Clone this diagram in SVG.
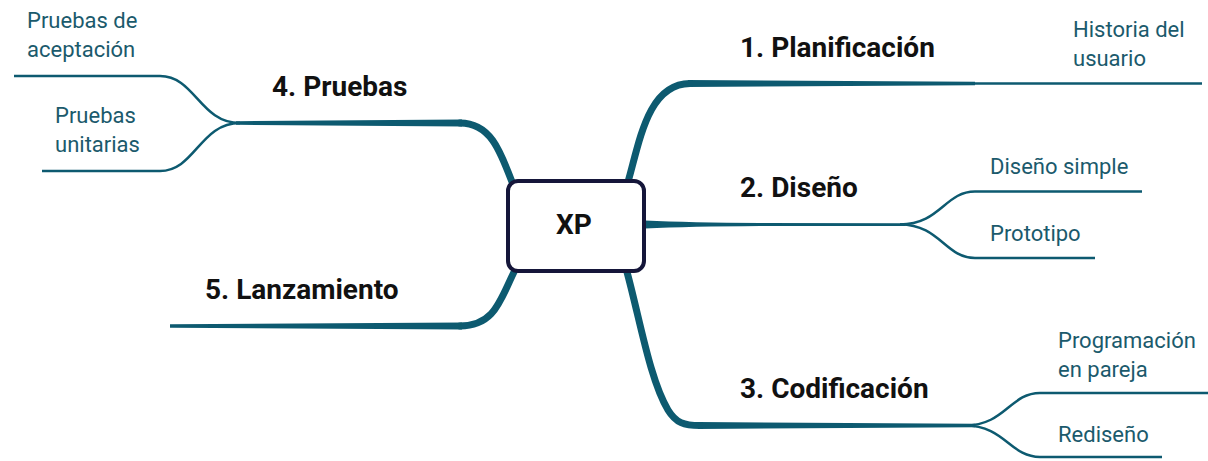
<svg xmlns="http://www.w3.org/2000/svg" width="1208" height="461" viewBox="0 0 1208 461">
  <defs>
    <linearGradient id="g5" gradientUnits="userSpaceOnUse" x1="170" y1="0" x2="515" y2="0">
      <stop offset="0" stop-color="#0d5a70"/>
      <stop offset="0.82" stop-color="#0d5a70"/>
      <stop offset="1" stop-color="#0f6158"/>
    </linearGradient>
  </defs>
  <style>
    .main { fill: none; stroke: #0d5a70; stroke-width: 7; stroke-linecap: round; stroke-linejoin: round; }
    .taper { fill: #0d5a70; stroke: none; }
    .sub { fill: none; stroke: #0d5a70; stroke-width: 2.5; stroke-linecap: butt; }
    .title { font-family: Roboto, "Liberation Sans", sans-serif; font-weight: 700; font-size: 28px; fill: #111; }
    .leaf { font-family: Roboto, "Liberation Sans", sans-serif; font-size: 22px; fill: #1b5a6c; }
  </style>

  <g id="connectors">
    <!-- 1. Planificación -->
    <path class="main" d="M628,182 C640,140 648,84 690,83.5"/>
    <path class="taper" d="M688,80 L975,81.7 L975,85.3 L688,87 Z"/>
    <path class="sub" d="M972,83.5 L1202,83.5"/>
    <!-- 2. Diseño -->
    <path class="taper" d="M645,220.5 Q690,222.6 760,223 L905,223.3 L905,225.9 L760,226.1 Q690,226.5 645,228.5 Z"/>
    <path class="sub" d="M900,224.5 C940,224.5 945,191.5 975,191.5 L1142,191.5"/>
    <path class="sub" d="M900,224.5 C940,224.5 945,258 975,258 L1095,258"/>
    <!-- 3. Codificación -->
    <path class="main" d="M627,272 C640,320 650,380 668,410 C676,423 684,425.5 700,425.5"/>
    <path class="taper" d="M698,422 L975,423.7 L975,427.3 L698,429 Z"/>
    <path class="sub" d="M965,425.5 C1005,425.5 1010,393 1040,393 L1208,393"/>
    <path class="sub" d="M965,425.5 C1005,425.5 1010,457 1040,457 L1162,457"/>
    <!-- 4. Pruebas -->
    <path class="main" d="M512,182 C500,150 490,123 460,123"/>
    <path class="taper" d="M462,119.5 L236,121.2 L236,124.8 L462,126.5 Z"/>
    <path class="sub" d="M240,123 C200,123 195,76 160,76 L14,76"/>
    <path class="sub" d="M240,123 C200,123 195,171 160,171 L42,171"/>
    <!-- 5. Lanzamiento -->
    <path class="main" stroke="url(#g5)" d="M515,270 C500,300 495,326 460,326"/>
    <path fill="url(#g5)" d="M462,322.6 L170,324.2 L170,327.8 L462,329.4 Z"/>
  </g>

  <g id="node-xp">
    <rect x="508" y="181" width="136" height="90" rx="10" ry="10" fill="#fff" stroke="#15163a" stroke-width="4"/>
    <text class="title" x="574" y="234" text-anchor="middle">XP</text>
  </g>

  <g id="node-planificacion">
    <text class="title" x="740" y="57">1. Planificación</text>
  </g>
  <g id="node-historia">
    <text class="leaf" x="1073" y="37">Historia del</text>
    <text class="leaf" x="1073" y="66">usuario</text>
  </g>

  <g id="node-diseno">
    <text class="title" x="740" y="197">2. Diseño</text>
  </g>
  <g id="node-diseno-simple">
    <text class="leaf" x="990" y="174">Diseño simple</text>
  </g>
  <g id="node-prototipo">
    <text class="leaf" x="990" y="241">Prototipo</text>
  </g>

  <g id="node-codificacion">
    <text class="title" x="740" y="398">3. Codificación</text>
  </g>
  <g id="node-programacion">
    <text class="leaf" x="1058" y="348">Programación</text>
    <text class="leaf" x="1058" y="377">en pareja</text>
  </g>
  <g id="node-rediseno">
    <text class="leaf" x="1058" y="442">Rediseño</text>
  </g>

  <g id="node-pruebas">
    <text class="title" x="272" y="96">4. Pruebas</text>
  </g>
  <g id="node-aceptacion">
    <text class="leaf" x="27" y="28">Pruebas de</text>
    <text class="leaf" x="27" y="57">aceptación</text>
  </g>
  <g id="node-unitarias">
    <text class="leaf" x="55" y="123">Pruebas</text>
    <text class="leaf" x="55" y="152">unitarias</text>
  </g>

  <g id="node-lanzamiento">
    <text class="title" x="205" y="299">5. Lanzamiento</text>
  </g>
</svg>
